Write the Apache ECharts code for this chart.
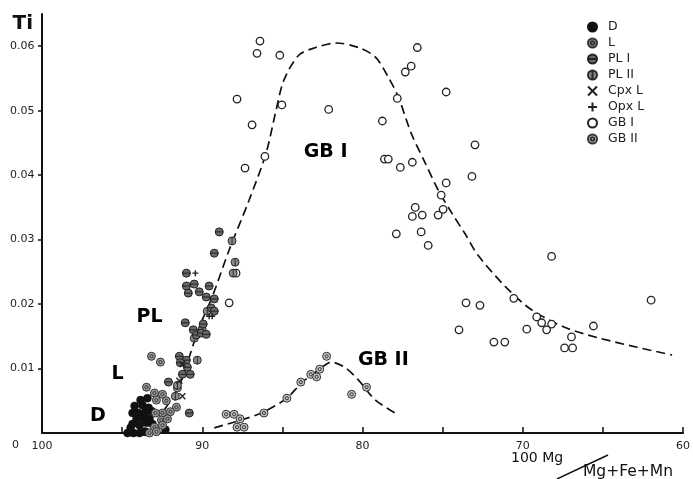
<!DOCTYPE html>
<html>
<head>
<meta charset="utf-8">
<script src="https://cdn.jsdelivr.net/npm/echarts@6/dist/echarts.min.js"></script>
<style>
  html, body { margin: 0; padding: 0; background: #fff; }
  #chart { width: 693px; height: 479px; }
</style>
</head>
<body>
<div id="chart"></div>
<script>
// ---- data: [100Mg/(Mg+Fe+Mn), Ti] ----
const seriesNames = ['D', 'L', 'PL I', 'PL II', 'Cpx L', 'Opx L', 'GB I', 'GB II'];

const dPoints = [
  [94.66, 0], [94.29, 0], [93.91, 0], [93.54, 0.0002], [93.60, 0.0002], [92.30, 0.0005],
  [94.47, 0.0008], [94.35, 0.0014], [93.91, 0.0012], [93.48, 0.0016], [93.11, 0.0014],
  [94.10, 0.0022], [93.66, 0.0023], [93.29, 0.0022], [94.35, 0.0031], [93.98, 0.0031],
  [93.54, 0.0033], [93.17, 0.0034], [94.22, 0.0042], [93.73, 0.0043], [93.35, 0.0039],
  [93.85, 0.0051], [93.42, 0.0054]
];

const lPoints = [
  [93.48, 0.0071], [92.98, 0.0062], [92.48, 0.0060], [91.55, 0.0070], [92.86, 0.0051],
  [92.24, 0.0050], [91.61, 0.0040], [91.99, 0.0033], [92.48, 0.0031], [92.92, 0.0031],
  [92.55, 0.0020], [92.17, 0.0022], [92.98, 0.0009], [92.48, 0.0012], [93.29, 0.0],
  [92.86, 0.0002], [93.17, 0.0119], [92.61, 0.0110]
];

const pl1Points = [
  [88.94, 0.0312], [89.25, 0.0279], [90.99, 0.0248], [90.99, 0.0228], [90.50, 0.0231],
  [90.87, 0.0217], [90.19, 0.0219], [89.57, 0.0228], [89.75, 0.0211], [89.25, 0.0208],
  [89.44, 0.0194], [89.25, 0.0189], [91.06, 0.0171], [90.56, 0.0160], [89.94, 0.0169],
  [90.37, 0.0152], [90.06, 0.0155], [89.75, 0.0153], [91.43, 0.0119], [90.99, 0.0113],
  [91.37, 0.0109], [90.93, 0.0102], [91.24, 0.0091], [90.75, 0.0091], [92.11, 0.0079],
  [90.81, 0.0031]
];

const pl2Points = [
  [88.14, 0.0298], [87.95, 0.0265], [88.07, 0.0248], [89.69, 0.0189], [90.50, 0.0147],
  [90.00, 0.0160], [90.31, 0.0113], [91.55, 0.0074], [91.68, 0.0057]
];

const cpxPoints = [[91.43, 0.0081], [91.24, 0.0057], [91.24, 0.0107]];

const opxPoints = [[90.43, 0.0248], [89.57, 0.0181], [89.38, 0.0181]];

const gb1Points = [
  [86.40, 0.0608], [86.58, 0.0589], [85.16, 0.0586], [87.83, 0.0518], [85.03, 0.0509],
  [82.11, 0.0502], [86.89, 0.0478], [86.09, 0.0429], [87.33, 0.0411], [76.58, 0.0598],
  [76.96, 0.0569], [77.33, 0.0560], [74.78, 0.0529], [77.83, 0.0519], [78.76, 0.0484],
  [78.63, 0.0425], [78.39, 0.0425], [76.89, 0.0420], [77.64, 0.0412], [72.98, 0.0447],
  [73.17, 0.0398], [74.78, 0.0388], [75.09, 0.0369], [74.97, 0.0347], [75.28, 0.0338],
  [76.71, 0.0350], [76.89, 0.0336], [76.27, 0.0338], [77.89, 0.0309], [76.34, 0.0312],
  [75.90, 0.0291], [68.20, 0.0274], [61.99, 0.0206], [73.54, 0.0202], [72.67, 0.0198],
  [70.56, 0.0209], [73.98, 0.0160], [71.80, 0.0141], [71.12, 0.0141], [69.75, 0.0161],
  [69.13, 0.0180], [68.82, 0.0171], [68.20, 0.0169], [68.51, 0.0160], [66.96, 0.0149],
  [67.39, 0.0132], [66.89, 0.0132], [65.59, 0.0166], [87.89, 0.0248], [88.32, 0.0202]
];

const gb2Points = [
  [88.51, 0.0029], [88.01, 0.0029], [87.64, 0.0022], [87.83, 0.0009], [87.39, 0.0009],
  [86.15, 0.0031], [84.72, 0.0054], [83.85, 0.0079], [83.23, 0.0091], [82.86, 0.0087],
  [82.67, 0.0099], [82.24, 0.0119], [80.68, 0.0060], [79.75, 0.0071]
];

// trend curves
const gb1Curve = [
  [92.36, 0.0036], [91.43, 0.0074], [90.81, 0.0118], [90.19, 0.0164], [89.38, 0.0211],
  [88.32, 0.0284], [87.08, 0.0361], [86.02, 0.0434], [85.40, 0.0500], [84.91, 0.0547],
  [83.98, 0.0586], [82.92, 0.0598], [81.61, 0.0605], [80.25, 0.0598], [79.19, 0.0583],
  [78.39, 0.0552], [77.76, 0.0521], [76.96, 0.0465], [76.09, 0.0419], [75.28, 0.0377],
  [74.47, 0.0343], [73.60, 0.0309], [72.80, 0.0276], [71.12, 0.0228], [69.50, 0.0192],
  [67.39, 0.0164], [65.34, 0.0148], [62.86, 0.0133], [60.68, 0.0121]
];

const gb2Curve = [
  [89.25, 0.0008], [87.20, 0.0023], [86.15, 0.0033], [84.72, 0.0054], [83.79, 0.0078],
  [82.73, 0.0098], [81.93, 0.0110], [81.06, 0.0101], [80.25, 0.0082], [79.19, 0.0051],
  [77.76, 0.0028]
];

// field annotations
const fieldLabels = [
  { name: 'GB I', value: [82.30, 0.0436] },
  { name: 'GB II', value: [78.70, 0.0113] },
  { name: 'PL', value: [93.29, 0.0180] },
  { name: 'L', value: [95.28, 0.0091] },
  { name: 'D', value: [96.52, 0.0026] }
];

const xTickValues = [100, 95, 90, 85, 80, 75, 70, 65, 60];
const xLabelValues = [100, 90, 80, 70, 60];
const yLabelValues = [0.01, 0.02, 0.03, 0.04, 0.05, 0.06];

// ---- styling ----
const FONT = 'DejaVu Sans, Liberation Sans, sans-serif';
const INK = '#111';

const ringPath = 'path://M0,-10A10,10,0,1,1,0,10A10,10,0,1,1,0,-10ZM0,-4A4,4,0,1,1,0,4A4,4,0,1,1,0,-4Z';
const hBarPath = 'path://M0,-10A10,10,0,1,1,0,10A10,10,0,1,1,0,-10ZM-10,0L10,0';
const vBarPath = 'path://M0,-10A10,10,0,1,1,0,10A10,10,0,1,1,0,-10ZM0,-10L0,10';
const crossPath = 'path://M-10,-10L10,10M10,-10L-10,10';
const plusPath = 'path://M0,-10L0,10M-10,0L10,0';

function scatter(name, data, symbol, size, fill, stroke, bw) {
  return {
    name: name,
    type: 'scatter',
    data: data,
    symbol: symbol,
    symbolSize: size,
    z: 3,
    itemStyle: { color: fill, borderColor: stroke, borderWidth: bw, opacity: 1 },
    emphasis: { disabled: true }
  };
}

function curve(data) {
  return {
    type: 'line',
    data: data,
    smooth: 0.3,
    symbol: 'none',
    z: 2,
    silent: true,
    lineStyle: { color: INK, width: 1.7, type: [9, 5] }
  };
}

const chart = echarts.init(document.getElementById('chart'), null, { renderer: 'canvas' });

chart.setOption({
  animation: false,
  backgroundColor: '#fff',
  textStyle: { fontFamily: FONT },
  grid: { left: 42, right: 7, top: 14, bottom: 46, containLabel: false },
  legend: {
    data: seriesNames,
    orient: 'vertical',
    left: 582,
    top: 15,
    itemWidth: 9,
    itemHeight: 9,
    itemGap: 2,
    textStyle: { fontFamily: FONT, fontSize: 12.5, color: '#222', lineHeight: 14, padding: [0, 0, 0, 6] },
    selectedMode: false
  },
  xAxis: {
    type: 'value',
    min: 60,
    max: 100,
    interval: 5,
    inverse: true,
    splitLine: { show: false },
    axisLine: { onZero: false, lineStyle: { color: INK, width: 2 } },
    axisTick: { inside: true, length: 6, customValues: xTickValues, lineStyle: { color: INK, width: 1.5 } },
    axisLabel: {
      customValues: xLabelValues,
      margin: 8,
      fontFamily: FONT,
      fontSize: 11,
      color: '#222',
      formatter: v => String(v)
    }
  },
  yAxis: {
    type: 'value',
    min: 0,
    max: 0.065,
    interval: 0.01,
    splitLine: { show: false },
    name: 'Ti',
    nameLocation: 'end',
    nameGap: -10,
    nameTextStyle: { fontFamily: FONT, fontSize: 20, fontWeight: 'bold', color: INK, align: 'right', verticalAlign: 'middle', padding: [0, 9, 0, 0] },
    axisLine: { onZero: false, lineStyle: { color: INK, width: 2 } },
    axisTick: { inside: false, length: 4, customValues: yLabelValues, lineStyle: { color: INK, width: 1.5 } },
    axisLabel: {
      customValues: yLabelValues,
      align: 'left',
      margin: 32,
      fontFamily: FONT,
      fontSize: 11,
      color: '#222',
      formatter: v => v.toFixed(2)
    }
  },
  graphic: [
    { type: 'text', left: 12, top: 440, style: { text: '0', font: '11px ' + FONT, fill: '#222' } },
    { type: 'text', left: 511, top: 451, style: { text: '100 Mg', font: '14px ' + FONT, fill: INK } },
    { type: 'line', shape: { x1: 557, y1: 479, x2: 608, y2: 455 }, style: { stroke: INK, lineWidth: 1.4 } },
    { type: 'text', left: 583, top: 464, style: { text: 'Mg+Fe+Mn', font: '15.5px ' + FONT, fill: INK } }
  ],
  series: [
    curve(gb1Curve),
    curve(gb2Curve),
    scatter('GB I', gb1Points, 'circle', 7.5, '#fff', '#222', 1.3),
    scatter('GB II', gb2Points, ringPath, 8, '#c4c4c4', '#333', 1),
    scatter('D', dPoints, 'circle', 8, '#111', '#111', 0.5),
    scatter('L', lPoints, ringPath, 8, '#9a9a9a', '#333', 1),
    scatter('PL II', pl2Points, vBarPath, 8, '#8a8a8a', '#2a2a2a', 1),
    scatter('PL I', pl1Points, hBarPath, 8, '#6a6a6a', '#222', 1),
    scatter('Cpx L', cpxPoints, crossPath, 6, '#222', '#222', 1.4),
    scatter('Opx L', opxPoints, plusPath, 6, '#222', '#222', 1.4),
    {
      type: 'scatter',
      data: fieldLabels,
      symbolSize: 1,
      silent: true,
      z: 4,
      itemStyle: { color: 'rgba(0,0,0,0)' },
      label: {
        show: true,
        position: 'inside',
        formatter: '{b}',
        fontFamily: FONT,
        fontSize: 19,
        fontWeight: 'bold',
        color: '#000',
        opacity: 1
      }
    }
  ]
});
</script>
</body>
</html>
